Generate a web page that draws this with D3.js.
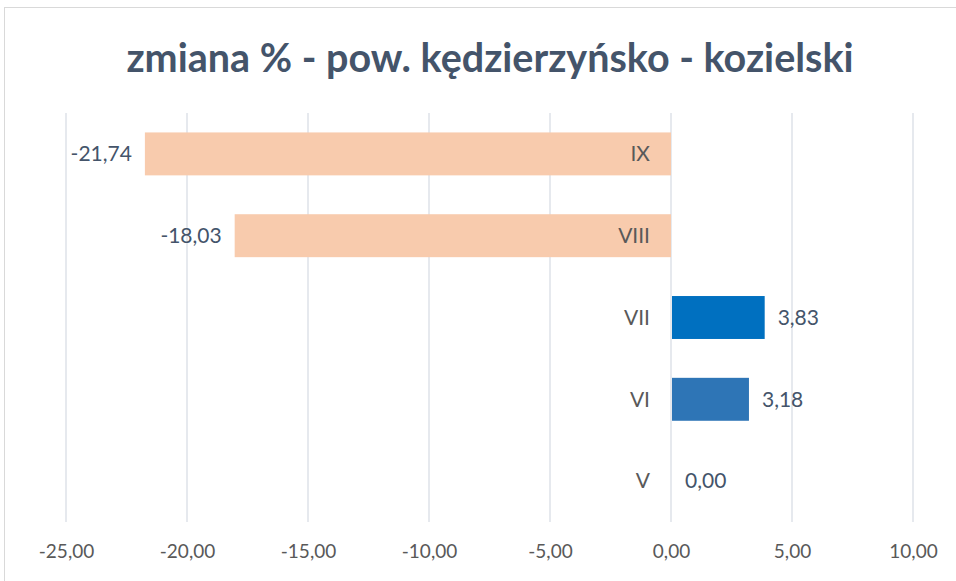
<!DOCTYPE html>
<html>
<head>
<meta charset="utf-8">
<script src="https://cdn.jsdelivr.net/npm/d3@7"></script>
<style>
  body { margin: 0; background: #fff; }
  svg { display: block; font-family: Lato, "Open Sans", sans-serif; }
</style>
</head>
<body>
<svg id="chart"></svg>
<script>
const categories = ["IX", "VIII", "VII", "VI", "V"];
const values = [-21.74, -18.03, 3.83, 3.18, 0.00];
const barColors = ["#F8CBAD", "#F8CBAD", "#0070C0", "#2E75B6", "#2E75B6"];
const tickValues = [-25, -20, -15, -10, -5, 0, 5, 10];
const title = "zmiana % - pow. kędzierzyńsko - kozielski";

const W = 956, H = 581;
const margin = { top: 113, right: 43, bottom: 59, left: 66 };
const width = W - margin.left - margin.right;
const height = H - margin.top - margin.bottom;

const fmt = v => v.toFixed(2).replace(".", ",");

const svg = d3.select("#chart").attr("width", W).attr("height", H);

svg.append("rect")
    .attr("x", 4.5).attr("y", 7.5)
    .attr("width", W - 4).attr("height", H - 6)
    .attr("fill", "#fff")
    .attr("stroke", "#D9D9D9");

svg.append("text")
    .attr("x", 490).attr("y", 72)
    .attr("text-anchor", "middle")
    .style("font-size", "39.5px")
    .style("font-weight", "bold")
    .attr("fill", "#44546A")
    .text(title);

const g = svg.append("g")
    .attr("transform", "translate(" + margin.left + "," + margin.top + ")");

let x = d3.scaleLinear()
    .domain([-25, 10])
    .range([0, width]);

let y = d3.scaleBand()
    .domain(categories)
    .range([0, height])
    .paddingInner(0.475)
    .paddingOuter(0.2375);

// gridlines
g.selectAll(".grid")
    .data(tickValues)
    .enter().append("line")
    .attr("x1", d => x(d)).attr("x2", d => x(d))
    .attr("y1", 0).attr("y2", height)
    .attr("stroke", "#D9DDE5")
    .attr("stroke-width", 1.3);

let xAxis = d3.axisBottom(x)
    .tickValues(tickValues)
    .tickSize(0)
    .tickPadding(23)
    .tickFormat(fmt);

const ax = g.append("g")
    .attr("transform", "translate(0," + height + ")")
    .call(xAxis);
ax.select(".domain").remove();
ax.selectAll("text")
    .style("font-size", "19px")
    .style("font-family", "Lato, sans-serif")
    .attr("fill", "#595959");

const data = categories.map((c, i) => ({ cat: c, v: values[i], color: barColors[i] }));

g.selectAll(".bar")
    .data(data)
    .enter().append("rect")
    .attr("x", d => x(Math.min(0, d.v)) + (d.v > 0 ? 1 : 0))
    .attr("y", d => y(d.cat))
    .attr("width", d => Math.abs(x(d.v) - x(0)))
    .attr("height", y.bandwidth())
    .attr("fill", d => d.color);

// category labels next to the zero line
g.selectAll(".cat")
    .data(data)
    .enter().append("text")
    .attr("x", x(0) - 21)
    .attr("y", d => y(d.cat) + y.bandwidth() / 2)
    .attr("dy", ".35em")
    .attr("text-anchor", "end")
    .style("font-size", "21px")
    .attr("fill", "#595959")
    .text(d => d.cat);

// value labels
g.selectAll(".val")
    .data(data)
    .enter().append("text")
    .attr("x", d => d.v < 0 ? x(d.v) - 13 : x(d.v) + 14)
    .attr("y", d => y(d.cat) + y.bandwidth() / 2)
    .attr("dy", ".35em")
    .attr("text-anchor", d => d.v < 0 ? "end" : "start")
    .style("font-size", "21px")
    .attr("fill", "#44546A")
    .text(d => fmt(d.v));
</script>
</body>
</html>
